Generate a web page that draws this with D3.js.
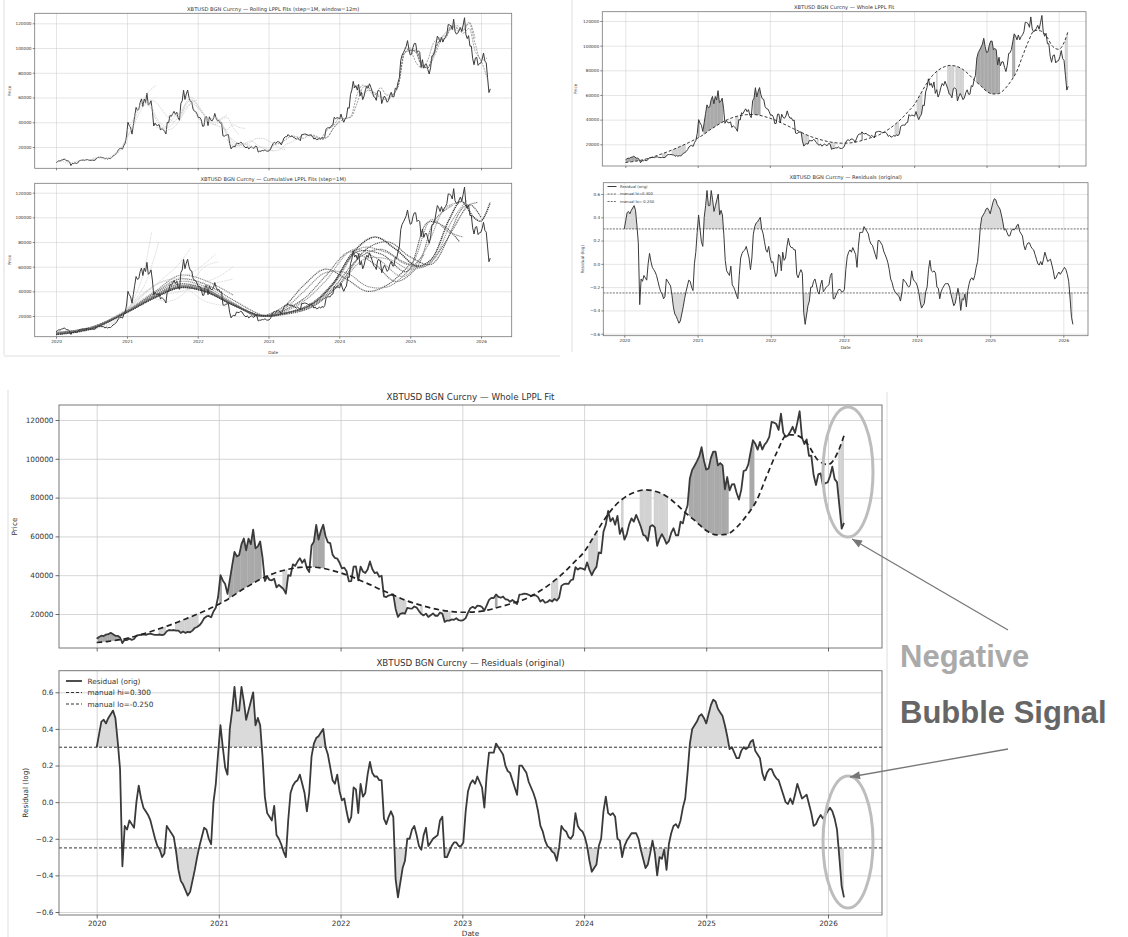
<!DOCTYPE html>
<html>
<head>
<meta charset="utf-8">
<script src="https://cdn.jsdelivr.net/npm/d3@7"></script>
<style>
body { margin: 0; background: #fff; }
text { font-family: "DejaVu Sans", sans-serif; fill: #333; }
</style>
</head>
<body>
<script>
const W = 1128, H = 937;
const svg = d3.select("body").append("svg").attr("width", W).attr("height", H);
const defs = svg.append("defs");

// ---- data (weekly closes from 2020-01-01) ----
const t0 = new Date(2020, 0, 1);
const price = [
  7200, 8100, 8800, 8650, 9400, 9600, 10300, 9600, 8800, 8750,
  7900, 5000, 6700, 6600, 7300, 6650, 7100, 8800, 9150, 9300,
  9500, 9200, 9650, 9900, 9450, 9250, 9230, 9430, 9150, 9530,
  11100, 11750, 11580, 11750, 11450, 11400, 10250, 10950, 10250, 10780,
  10600, 11430, 12800, 13280, 14150, 15700, 17800, 18750, 19000, 18300,
  21300, 23200, 28900,
  40000, 37300, 35500, 30400, 37600, 44900, 52000, 49700, 50400, 56000,
  58900, 52800, 58800, 56000, 63500, 53800, 54900, 57400, 49200, 37000,
  39300, 37600, 37400, 38200, 33700, 35000, 33900, 32800, 30500, 40000,
  39700, 45600, 44800, 47000, 48800, 46400, 48100, 43600, 41600, 55300,
  57300, 65900, 58400, 62900, 66000, 60100, 56900, 56500, 50600, 48900,
  48600, 46400,
  43500, 43900, 42000, 36800, 36900, 44400, 44500, 37300, 44400, 41900,
  41100, 42900, 47100, 43200, 41100, 41500, 39200, 39700, 29100, 28700,
  29500, 29800, 30100, 22600, 18500, 20100, 20500, 20200, 23200, 22900,
  22800, 23900, 23300, 21500, 20000, 19300, 20200, 18500, 19400, 20300,
  19100, 19100, 20800, 20200, 15900, 16600, 16600, 17200, 17000, 17800,
  16800, 16600,
  16900, 17900, 20700, 23000, 23700, 22900, 24300, 24200, 23600, 21700,
  24400, 27300, 28300, 28200, 30100, 28800, 28400, 29000, 27600, 27400,
  26300, 27200, 26300, 25100, 30000, 30100, 30500, 30400, 29900, 29300,
  29700, 29600, 28700, 26400, 27300, 25800, 26200, 27200, 26400, 27800,
  26900, 28400, 34500, 35400, 35600, 35500, 37400, 37800, 44100, 42900,
  43700, 43400,
  42800, 46600, 42700, 40000, 42600, 44300, 51800, 51300, 62400, 66100,
  73100, 67800, 69500, 66000, 70600, 61300, 64300, 58300, 61200, 66200,
  69300, 67600, 71100, 68200, 65000, 60800, 60200, 57700, 65100, 65800,
  64600, 55100, 58700, 61200, 59000, 56200, 57600, 61800, 64200, 60600,
  60600, 67600, 66700, 72300, 75900, 90000, 94300, 96400, 98700, 101200,
  106000, 99200,
  94400, 95000, 100500, 103700, 103700, 96600, 97800, 96600, 84300, 90600,
  83700, 86800, 86900, 82500, 79000, 84000, 93700, 94200, 97000, 103500,
  109600, 107800, 104700, 108700, 104800, 107300, 108800, 111300, 119000, 118700,
  117900, 114900, 123300, 113500, 111300, 112000, 114000, 116500, 113300, 118600,
  124500, 111000, 107600, 110000, 101500, 101600, 91500, 86500, 92000, 92500,
  86000, 87500, 87800,
  91000, 96000, 89500, 88000, 76000, 64000, 67000
];
const resid = [
  0.30, 0.37, 0.44, 0.45, 0.43, 0.46, 0.48, 0.50, 0.46, 0.33,
  0.18, -0.35, -0.13, -0.15, -0.10, -0.12, -0.14, 0.00, 0.09, 0.02,
  -0.03, -0.05, -0.07, -0.10, -0.15, -0.20, -0.24, -0.26, -0.30, -0.28,
  -0.13, -0.15, -0.17, -0.19, -0.27, -0.37, -0.43, -0.45, -0.48, -0.51,
  -0.49, -0.43, -0.37, -0.30, -0.24, -0.19, -0.14, -0.15, -0.20, -0.23,
  0.00, 0.10, 0.27,
  0.42, 0.30, 0.19, 0.15, 0.40, 0.50, 0.63,
  0.50, 0.50, 0.63, 0.55, 0.45, 0.50, 0.55, 0.60, 0.42, 0.46,
  0.42, 0.25, 0.03, -0.06, -0.08, -0.10, -0.02, -0.18, -0.20, -0.23,
  -0.27, -0.30, -0.10, 0.05, 0.09, 0.11, 0.12, 0.15, 0.10, 0.05,
  -0.05, 0.05, 0.25, 0.32, 0.35, 0.36, 0.38, 0.40, 0.30, 0.26,
  0.19, 0.12, 0.10, 0.15, 0.06, 0.01, 0.02, -0.05, -0.11, -0.08,
  0.08, 0.07, -0.06, 0.10, 0.03, 0.05, 0.15, 0.22, 0.16, 0.14,
  0.14, 0.12, 0.12, -0.09, -0.12, -0.08, -0.05, -0.08, -0.42, -0.52,
  -0.44, -0.36, -0.32, -0.20, -0.20, -0.15, -0.13, -0.18, -0.24, -0.26,
  -0.18, -0.14, -0.24, -0.22, -0.20, -0.19, -0.18, -0.10, -0.08, -0.30,
  -0.30, -0.27, -0.24, -0.22, -0.22, -0.24, -0.24, -0.22, -0.05, 0.06,
  0.10, 0.12, 0.10, 0.14, 0.11, 0.08, -0.03, 0.15, 0.27, 0.27,
  0.27, 0.32, 0.30, 0.28, 0.26, 0.20, 0.17, 0.16, 0.12, 0.08,
  0.04, 0.20, 0.20, 0.18, 0.16, 0.11, 0.08, 0.05, 0.01, -0.05,
  -0.13, -0.16, -0.21, -0.24, -0.25, -0.27, -0.28, -0.32, -0.25, -0.13,
  -0.15, -0.16, -0.19, -0.20, -0.18, -0.06, -0.13, -0.15, -0.16, -0.19,
  -0.24, -0.32, -0.38, -0.36, -0.34, -0.24, -0.20, -0.05, 0.03, -0.06,
  -0.07, -0.06, -0.08, -0.20, -0.21, -0.30, -0.24, -0.21, -0.19, -0.17,
  -0.17, -0.17, -0.20, -0.26, -0.31, -0.36, -0.34, -0.28, -0.21, -0.28,
  -0.40, -0.30, -0.31, -0.26, -0.37, -0.23, -0.17, -0.13, -0.12, -0.14,
  -0.10, -0.03, 0.02, 0.16, 0.32, 0.40, 0.42, 0.44, 0.47, 0.48,
  0.46, 0.43, 0.48, 0.53, 0.56, 0.55, 0.51, 0.49, 0.47, 0.42,
  0.36, 0.29, 0.30, 0.27, 0.24, 0.24, 0.28, 0.30, 0.29, 0.30,
  0.33, 0.34, 0.28, 0.26, 0.24, 0.16, 0.12, 0.16, 0.18, 0.18,
  0.15, 0.13, 0.12, 0.08, 0.04, 0.00, -0.01, 0.02, -0.01, 0.04,
  0.10, 0.06, 0.02, 0.03, 0.04, -0.01, -0.06, -0.13, -0.12, -0.09,
  -0.07, -0.09, -0.07, -0.05, -0.03, -0.05, -0.09, -0.15, -0.30, -0.46,
  -0.52
];
// whole LPPL fit, first of each month Jan 2020 .. Feb 2026, then the last day
const fitMonthly = [
  5300, 5800, 6500, 7500, 8800, 10400, 12100, 13900, 15900, 18000, 20200, 22500,
  25000, 28000, 31300, 34500, 37500, 40000, 41900, 43200, 44000, 44200, 43800, 42700,
  41200, 39400, 37300, 35000, 32600, 30300, 28000, 26000, 24400, 23000, 21900, 21200,
  20900, 21000, 21500, 22600, 24000, 25600, 27200, 29800, 33000, 36800, 41300, 46500,
  52000, 60500, 68500, 75500, 80000, 82800, 84000, 83300, 81000, 77000, 72000, 67700,
  63000, 60800, 61000, 64500, 70500, 78500, 91000, 103500, 112500, 112000, 107500, 99500,
  97000, 104000
];
const fitLast = 112000;

// rolling 12m fits, monthly values in thousands
const rollStart = ["2020-01", "2020-06", "2020-09", "2021-01", "2021-03", "2021-06", "2021-08",
  "2021-09", "2021-11", "2022-02", "2022-04", "2022-06", "2023-01", "2023-06", "2023-10",
  "2024-03", "2024-06", "2024-10", "2024-12", "2025-01", "2025-02"];
const rollK = [
  [7.5, 8.5, 7.0, 7.8, 9.0, 9.5, 9.8, 11.0, 11.2, 11.0, 13.5, 17.5, 24],
  [9.5, 10.0, 11.5, 11.0, 11.0, 14.0, 19.0, 27.0, 38.0, 50.0, 60.0, 66.0, 70.0],
  [10.5, 11.5, 15.0, 19.0, 28.0, 36.0, 46.0, 54.0, 58.0, 56.0, 50.0, 44.0, 40.0],
  [33, 42, 52, 57, 52, 42, 36, 34, 36, 42, 50, 56, 58],
  [50, 55, 54, 44, 38, 36, 40, 46, 52, 55, 52, 46, 40],
  [36, 35, 38, 44, 48, 55, 58, 54, 47, 42, 40, 43, 46],
  [44, 47, 46, 56, 60, 54, 46, 40, 38, 42, 44, 36, 30],
  [46, 44, 54, 58, 52, 46, 41, 38, 36, 34, 38, 36, 35],
  [60, 55, 44, 40, 42, 44, 40, 30, 22, 21, 22, 20, 19],
  [40, 41, 44, 40, 32, 24, 21, 23, 25, 22, 19, 17, 17],
  [43, 39, 30, 26, 22, 22, 24, 27, 27, 25, 22, 19, 18],
  [26, 21, 22, 23, 21, 19, 20, 18, 17, 18, 22, 24, 27],
  [17, 22, 23, 26, 29, 28, 27, 30, 29, 27, 28, 35, 41],
  [26, 30, 29, 28, 26, 28, 35, 40, 43, 44, 55, 68, 70],
  [27, 34, 37, 43, 43, 45, 62, 70, 66, 62, 68, 62, 62],
  [65, 70, 63, 66, 64, 61, 59, 62, 70, 96, 98, 97, 88],
  [68, 63, 60, 58, 62, 70, 96, 98, 98, 88, 84, 92, 104],
  [62, 70, 95, 100, 98, 86, 84, 96, 106, 112, 116, 114, 118],
  [100, 98, 88, 84, 90, 104, 108, 110, 118, 116, 115, 121, 108],
  [99, 96, 86, 84, 94, 106, 108, 116, 118, 114, 120, 104, 90, 92],
  [97, 86, 84, 96, 106, 108, 117, 116, 112, 116, 98, 90, 76]
];

// cumulative fits: [decimal year, value in thousands]
const cumLight = [
  [[2020, 7], [2020.5, 9], [2020.8, 14], [2021.0, 24], [2021.2, 48], [2021.35, 88]],
  [[2020, 7], [2020.5, 9.5], [2020.8, 15], [2021.0, 25], [2021.25, 45], [2021.45, 80]],
  [[2020, 7.5], [2020.5, 10], [2020.9, 20], [2021.2, 36], [2021.5, 50], [2021.7, 60], [2021.9, 75]],
  [[2020, 7], [2020.5, 10], [2020.9, 21], [2021.2, 37], [2021.5, 48], [2021.8, 52], [2022.0, 58], [2022.25, 70]],
  [[2020, 7], [2020.5, 10.5], [2021.0, 25], [2021.4, 40], [2021.7, 44], [2022.0, 46], [2022.3, 52], [2022.5, 60]],
  [[2020, 6.5], [2020.5, 10.5], [2021.0, 25], [2021.3, 36], [2021.6, 38], [2021.9, 42], [2022.2, 46], [2022.5, 50]],
  [[2020, 6], [2020.5, 10], [2021.0, 24], [2021.3, 34], [2021.6, 32], [2021.8, 38], [2022.1, 60], [2022.3, 64]],
  [[2020, 6], [2020.5, 11], [2021.0, 25], [2021.3, 40], [2021.5, 48], [2021.8, 50], [2022.0, 45], [2022.2, 40]],
  [[2020, 7], [2020.5, 11], [2021.0, 26], [2021.4, 45], [2021.6, 48], [2021.9, 40], [2022.1, 32], [2022.4, 28]]
];
const cumDark = [
  [[2020, 6], [2020.5, 11], [2021, 24], [2021.4, 40], [2021.75, 53], [2022.1, 49], [2022.5, 37]],
  [[2020, 6.5], [2020.5, 11], [2021, 24], [2021.4, 39], [2021.75, 50], [2022.1, 46], [2022.5, 33], [2022.9, 21], [2023.1, 20]],
  [[2020, 6], [2020.5, 10.5], [2021, 24], [2021.4, 38], [2021.75, 48], [2022.1, 44], [2022.5, 31], [2022.9, 20], [2023.2, 24], [2023.5, 34]],
  [[2020, 6], [2020.5, 10.5], [2021, 24], [2021.4, 37], [2021.75, 46], [2022.1, 42], [2022.5, 30], [2022.85, 20], [2023.2, 27], [2023.5, 45], [2023.8, 58], [2024.1, 50], [2024.4, 40], [2024.7, 46], [2025, 62]],
  [[2020, 6], [2020.5, 10.5], [2021, 24], [2021.4, 37], [2021.75, 45], [2022.1, 42], [2022.5, 30], [2022.85, 20], [2023.2, 25], [2023.5, 40], [2023.8, 55], [2024.1, 55], [2024.4, 44], [2024.7, 44], [2025, 58], [2025.2, 70]],
  [[2020, 5.5], [2020.5, 10], [2021, 23.5], [2021.4, 36], [2021.75, 44], [2022.1, 41], [2022.5, 30], [2022.9, 20], [2023.2, 24], [2023.5, 34], [2023.8, 52], [2024.15, 72], [2024.5, 62], [2024.8, 48], [2025.1, 60], [2025.35, 98], [2025.6, 110]],
  [[2020, 5.5], [2020.5, 10], [2021, 23.5], [2021.4, 36], [2021.75, 44], [2022.1, 41], [2022.5, 30], [2022.9, 20], [2023.2, 23], [2023.5, 32], [2023.8, 48], [2024.2, 74], [2024.55, 66], [2024.9, 52], [2025.2, 72], [2025.5, 108], [2025.7, 112]],
  [[2020, 5.5], [2020.5, 10], [2021, 23], [2021.4, 36], [2021.75, 44], [2022.1, 41], [2022.5, 29], [2022.9, 20], [2023.2, 22], [2023.6, 30], [2023.9, 46], [2024.25, 72], [2024.6, 70], [2024.95, 56], [2025.25, 96], [2025.5, 92], [2025.7, 80]],
  [[2020, 5.5], [2020.5, 10], [2021, 23], [2021.4, 36], [2021.75, 44], [2022.1, 41], [2022.5, 29], [2022.9, 20], [2023.2, 22], [2023.6, 29], [2023.95, 48], [2024.3, 75], [2024.65, 72], [2025, 62], [2025.3, 98], [2025.55, 88], [2025.75, 84]],
  [[2020, 5], [2020.5, 10], [2021, 23], [2021.4, 36], [2021.75, 43], [2022.1, 40], [2022.5, 29], [2022.9, 20], [2023.2, 22], [2023.6, 28], [2023.9, 42], [2024.3, 68], [2024.6, 74], [2024.9, 64], [2025.2, 60], [2025.5, 80], [2025.75, 108], [2025.95, 112]],
  [[2020, 5], [2020.5, 10], [2021, 23], [2021.4, 35], [2021.75, 43], [2022.1, 40], [2022.5, 29], [2022.9, 20], [2023.2, 22], [2023.6, 27], [2024, 45], [2024.35, 66], [2024.7, 66], [2025, 58], [2025.3, 64], [2025.6, 98], [2025.8, 114]],
  [[2020, 5], [2020.5, 10], [2021, 23], [2021.4, 35], [2021.75, 43], [2022.1, 40], [2022.5, 29], [2022.9, 20], [2023.2, 21], [2023.6, 27], [2024, 46], [2024.4, 75], [2024.7, 80], [2025, 68], [2025.3, 62], [2025.6, 90], [2025.85, 110], [2026, 100]],
  [[2020, 5], [2020.5, 9.5], [2021, 23], [2021.4, 35], [2021.75, 43], [2022.1, 40], [2022.5, 29], [2022.9, 20.5], [2023.3, 23], [2023.6, 29], [2023.9, 45], [2024.2, 72], [2024.5, 84], [2024.8, 74], [2025.1, 60.5], [2025.3, 66], [2025.55, 98], [2025.72, 113], [2025.9, 100], [2026, 97], [2026.13, 112]]
];

const years = [2020, 2021, 2022, 2023, 2024, 2025, 2026];
const priceTicks = [20000, 40000, 60000, 80000, 100000, 120000];
const residTicks = [-0.6, -0.4, -0.2, 0, 0.2, 0.4, 0.6];
const hi = 0.3, lo = -0.25;
const legendLabels = ["Residual (orig)", "manual hi=0.300", "manual lo=-0.250"];

// ---- derived dates ----
const weeks = price.map((d, i) => d3.timeDay.offset(t0, 7 * i));
const fitDates = fitMonthly.map((d, i) => d3.timeMonth.offset(t0, i)).concat([weeks[weeks.length - 1]]);
const fitVals = fitMonthly.concat([fitLast]);
const yearDates = years.map(y => new Date(y, 0, 1));
const decDate = v => new Date(t0.getTime() + (v - 2020) * 365.25 * 864e5);
const parseMonth = d3.timeParse("%Y-%m");

let uid = 0;
function clipRect(x, y, w, h) {
  const id = "cl" + (uid++);
  defs.append("clipPath").attr("id", id).append("rect")
    .attr("x", x).attr("y", y).attr("width", w).attr("height", h);
  return `url(#${id})`;
}

const priceFmt = d => String(d);
const residFmt = d => d === 0 ? "0.0" : (d < 0 ? "\u2212" : "") + Math.abs(d).toFixed(1);

function panel(o) {
  const x = d3.scaleTime().domain([yearDates[0], yearDates[6]]).range([o.x20, o.x26]);
  const y = d3.scaleLinear().domain([o.yA[0], o.yB[0]]).range([o.yA[1], o.yB[1]]);
  const w = o.right - o.left, h = o.bottom - o.top;
  const g = svg.append("g");
  const gridStyle = a => {
    a.select(".domain").remove();
    a.selectAll("line").attr("stroke", "#cbcbcb").attr("stroke-width", o.gw);
  };
  g.append("g").attr("transform", `translate(0,${o.bottom})`)
    .call(d3.axisBottom(x).tickValues(yearDates).tickSize(-h).tickFormat(""))
    .call(gridStyle);
  g.append("g").attr("transform", `translate(${o.left},0)`)
    .call(d3.axisLeft(y).tickValues(o.yTicks).tickSize(-w).tickFormat(""))
    .call(gridStyle);
  const plot = g.append("g").attr("clip-path", clipRect(o.left, o.top, w, h));
  const top = g.append("g");
  top.append("rect").attr("x", o.left).attr("y", o.top).attr("width", w).attr("height", h)
    .attr("fill", "none").attr("stroke", "#777").attr("stroke-width", o.fw);
  const xa = top.append("g").attr("transform", `translate(0,${o.bottom})`)
    .call(d3.axisBottom(x).tickValues(yearDates).tickSize(o.tk).tickPadding(o.pad)
      .tickFormat(o.xLabels ? d3.timeFormat("%Y") : ""));
  const ya = top.append("g").attr("transform", `translate(${o.left},0)`)
    .call(d3.axisLeft(y).tickValues(o.yTicks).tickSize(o.tk).tickPadding(o.pad).tickFormat(o.yFmt));
  [xa, ya].forEach(a => {
    a.select(".domain").remove();
    a.selectAll("line").attr("stroke", "#444").attr("stroke-width", o.fw * 0.8);
    a.selectAll("text").attr("font-size", o.fs).attr("fill", "#333");
  });
  top.append("text").attr("x", (o.left + o.right) / 2).attr("y", o.titleY)
    .attr("text-anchor", "middle").attr("font-size", o.tfs).text(o.title);
  top.append("text")
    .attr("transform", `translate(${o.ylabX},${(o.top + o.bottom) / 2}) rotate(-90)`)
    .attr("text-anchor", "middle").attr("font-size", o.fs).text(o.ylab);
  if (o.xlabY) {
    top.append("text").attr("x", (o.left + o.right) / 2).attr("y", o.xlabY)
      .attr("text-anchor", "middle").attr("font-size", o.fs).text("Date");
  }
  return { plot, top, x, y };
}

function drawPrice(P, o) {
  P.plot.append("path")
    .attr("d", d3.line().x((d, i) => P.x(weeks[i])).y(d => P.y(d))(price))
    .attr("fill", "none").attr("stroke", "#3a3a3a").attr("stroke-width", o.lw)
    .attr("stroke-linejoin", "round");
}

function drawFit(P, o) {
  P.plot.append("path")
    .attr("d", d3.line().x((d, i) => P.x(fitDates[i])).y(d => P.y(d)).curve(d3.curveMonotoneX)(fitVals))
    .attr("fill", "none").attr("stroke", "#222").attr("stroke-width", o.dw)
    .attr("stroke-dasharray", o.dash);
}

function shadePrice(P, o) {
  const sets = [
    { cond: r => r > hi, fitY0: o.top - 20, priceY0: o.bottom + 20, fill: "#a9a9a9" },
    { cond: r => r < lo, fitY0: o.bottom + 20, priceY0: o.top - 20, fill: "#d2d2d2" }
  ];
  sets.forEach(s => {
    const tid = "cl" + (uid++);
    defs.append("clipPath").attr("id", tid).selectAll("rect")
      .data(weeks.filter((d, i) => s.cond(resid[i]))).join("rect")
      .attr("x", d => P.x(d3.timeHour.offset(d, -84)))
      .attr("width", d => P.x(d3.timeHour.offset(d, 84)) - P.x(d3.timeHour.offset(d, -84)) + 0.3)
      .attr("y", o.top).attr("height", o.bottom - o.top);
    const fid = "cl" + (uid++);
    defs.append("clipPath").attr("id", fid).append("path")
      .attr("d", d3.area().x((d, i) => P.x(fitDates[i])).y0(s.fitY0).y1(d => P.y(d))
        .curve(d3.curveMonotoneX)(fitVals));
    P.plot.append("g").attr("clip-path", `url(#${tid})`).append("path")
      .attr("clip-path", `url(#${fid})`)
      .attr("d", d3.area().x((d, i) => P.x(weeks[i])).y0(s.priceY0).y1(d => P.y(d))(price))
      .attr("fill", s.fill);
  });
}

function residPanel(P, o) {
  const yh = P.y(hi), yl = P.y(lo);
  [[hi, o.top, yh - o.top], [lo, yl, o.bottom - yl]].forEach(([t, cy, ch]) => {
    P.plot.append("path")
      .attr("clip-path", clipRect(o.left, cy, o.right - o.left, ch))
      .attr("d", d3.area().x((d, i) => P.x(weeks[i])).y0(P.y(t)).y1(d => P.y(d))(resid))
      .attr("fill", "#dadada");
  });
  [hi, lo].forEach(t => {
    P.plot.append("line").attr("x1", o.left).attr("x2", o.right)
      .attr("y1", P.y(t)).attr("y2", P.y(t))
      .attr("stroke", "#333").attr("stroke-width", o.tw).attr("stroke-dasharray", o.tdash);
  });
  P.plot.append("path")
    .attr("d", d3.line().x((d, i) => P.x(weeks[i])).y(d => P.y(d))(resid))
    .attr("fill", "none").attr("stroke", "#3a3a3a").attr("stroke-width", o.lw)
    .attr("stroke-linejoin", "round");
  // legend
  const L = o.legend;
  legendLabels.forEach((lab, k) => {
    const ly = L.ys[k];
    P.top.append("line").attr("x1", L.x1).attr("x2", L.x2).attr("y1", ly).attr("y2", ly)
      .attr("stroke", k === 0 ? "#3a3a3a" : "#333")
      .attr("stroke-width", k === 0 ? o.lw : o.tw)
      .attr("stroke-dasharray", k === 0 ? null : o.tdash);
    P.top.append("text").attr("x", L.tx).attr("y", ly).attr("dy", "0.35em")
      .attr("font-size", L.fs).text(lab);
  });
}

// ---- screenshot edges ----
const edges = [[4, 0, 4, 355], [4, 356, 560, 356], [572, 0, 572, 352], [8, 390, 8, 937], [887, 392, 887, 937]];
svg.append("g").selectAll("line").data(edges).join("line")
  .attr("x1", d => d[0]).attr("y1", d => d[1]).attr("x2", d => d[2]).attr("y2", d => d[3])
  .attr("stroke", "#dedede").attr("stroke-width", 1);

// ---- top-left: rolling fits ----
const small = { gw: 0.5, fw: 0.8, tk: 2, pad: 1.2, fs: 4.2, tfs: 5.2 };
const oRoll = Object.assign({}, small, {
  left: 34.7, right: 511.7, top: 13.3, bottom: 168.3, x20: 56, x26: 481,
  yA: [20000, 147], yB: [120000, 23.3], yTicks: priceTicks, yFmt: priceFmt,
  title: "XBTUSD BGN Curcny \u2014 Rolling LPPL Fits (step=1M, window=12m)", titleY: 11,
  ylab: "Price", ylabX: 10.5, xLabels: false, lw: 1
});
const PR = panel(oRoll);
drawPrice(PR, oRoll);
rollK.forEach((vals, k) => {
  const s = parseMonth(rollStart[k]);
  PR.plot.append("path")
    .attr("d", d3.line().x((d, i) => PR.x(d3.timeMonth.offset(s, i))).y(d => PR.y(d * 1000))
      .curve(d3.curveMonotoneX)(vals))
    .attr("fill", "none").attr("stroke", k < 12 ? "#bdbdbd" : "#666")
    .attr("stroke-width", 0.6).attr("stroke-dasharray", k < 12 ? "1.5,0.8" : "2,1");
});

// ---- top-left lower: cumulative fits ----
const oCum = Object.assign({}, small, {
  left: 34.7, right: 511.7, top: 183.3, bottom: 336.7, x20: 56, x26: 481,
  yA: [20000, 316], yB: [120000, 192.7], yTicks: priceTicks, yFmt: priceFmt,
  title: "XBTUSD BGN Curcny \u2014 Cumulative LPPL Fits (step=1M)", titleY: 181,
  ylab: "Price", ylabX: 10.5, xLabels: true, xlabY: 353.5, lw: 1
});
const PC = panel(oCum);
const cumLine = d3.line().x(d => PC.x(decDate(d[0]))).y(d => PC.y(d[1] * 1000)).curve(d3.curveCatmullRom.alpha(0.5));
cumLight.forEach(c => {
  PC.plot.append("path").attr("d", cumLine(c)).attr("fill", "none")
    .attr("stroke", "#c6c6c6").attr("stroke-width", 0.7).attr("stroke-dasharray", "1,0.8");
});
const darkTones = ["#8a8a8a", "#6f6f6f", "#999", "#555"];
cumDark.forEach((c, k) => {
  PC.plot.append("path").attr("d", cumLine(c)).attr("fill", "none")
    .attr("stroke", k === cumDark.length - 1 ? "#3c3c3c" : darkTones[k % darkTones.length])
    .attr("stroke-width", k === cumDark.length - 1 ? 1.5 : 1.1).attr("stroke-dasharray", "1.2,0.7");
});
drawPrice(PC, oCum);

// ---- top-right: whole fit + residuals ----
const oWhole = Object.assign({}, small, {
  left: 602.3, right: 1086, top: 11.7, bottom: 166, x20: 625.3, x26: 1058.7,
  yA: [20000, 144.3], yB: [120000, 21], yTicks: priceTicks, yFmt: priceFmt,
  title: "XBTUSD BGN Curcny \u2014 Whole LPPL Fit", titleY: 8.5,
  ylab: "Price", ylabX: 577, xLabels: false, lw: 1, dw: 0.9, dash: "3,2"
});
const PW = panel(oWhole);
shadePrice(PW, oWhole);
drawPrice(PW, oWhole);
drawFit(PW, oWhole);

const oRes = Object.assign({}, small, {
  left: 603.3, right: 1088, top: 182.7, bottom: 335.7, x20: 624.3, x26: 1063.3,
  yA: [-0.6, 333.7], yB: [0.6, 194], yTicks: residTicks, yFmt: residFmt,
  title: "XBTUSD BGN Curcny \u2014 Residuals (original)", titleY: 179,
  ylab: "Residual (log)", ylabX: 584, xLabels: true, xlabY: 348.5,
  lw: 1, tw: 0.7, tdash: "2,1.2",
  legend: { x1: 607.5, x2: 616.5, tx: 620, ys: [186.5, 194, 201.5], fs: 3.8 }
});
const PRs = panel(oRes);
residPanel(PRs, oRes);

// ---- bottom: enlarged whole fit + residuals ----
const big = { gw: 0.8, fw: 1, tk: 3.5, pad: 2, fs: 7.3, tfs: 8.7 };
const oBig = Object.assign({}, big, {
  left: 59, right: 882, top: 405, bottom: 648, x20: 96.7, x26: 828,
  yA: [20000, 614], yB: [120000, 420], yTicks: priceTicks, yFmt: priceFmt,
  title: "XBTUSD BGN Curcny \u2014 Whole LPPL Fit", titleY: 400,
  ylab: "Price", ylabX: 17, xLabels: false, lw: 1.8, dw: 1.7, dash: "5.5,3.5"
});
const PB = panel(oBig);
shadePrice(PB, oBig);
drawPrice(PB, oBig);
drawFit(PB, oBig);

const oBigRes = Object.assign({}, big, {
  left: 59, right: 882, top: 670.7, bottom: 915, x20: 96.7, x26: 828,
  yA: [-0.6, 912], yB: [0.6, 692.3], yTicks: residTicks, yFmt: residFmt,
  title: "XBTUSD BGN Curcny \u2014 Residuals (original)", titleY: 666,
  ylab: "Residual (log)", ylabX: 28, xLabels: true, xlabY: 936,
  lw: 1.8, tw: 1, tdash: "3,2",
  legend: { x1: 66, x2: 82, tx: 87.5, ys: [681, 692.5, 704], fs: 7.3 }
});
const PBR = panel(oBigRes);
residPanel(PBR, oBigRes);

// ---- annotation ----
defs.append("marker").attr("id", "arrowHead").attr("viewBox", "0 0 10 10")
  .attr("refX", 10).attr("refY", 5).attr("markerWidth", 12).attr("markerHeight", 10)
  .attr("markerUnits", "userSpaceOnUse").attr("orient", "auto")
  .append("path").attr("d", "M0,1L10,5L0,9Z").attr("fill", "#777");

const ann = svg.append("g");
[[848, 472, 25, 65], [848, 842, 25, 66]].forEach(e => {
  ann.append("ellipse").attr("cx", e[0]).attr("cy", e[1]).attr("rx", e[2]).attr("ry", e[3])
    .attr("fill", "none").attr("stroke", "#bdbdbd").attr("stroke-width", 3);
});
[[1008, 630, 852, 539], [1008, 749, 850, 777]].forEach(a => {
  ann.append("line").attr("x1", a[0]).attr("y1", a[1]).attr("x2", a[2]).attr("y2", a[3])
    .attr("stroke", "#777").attr("stroke-width", 1.3).attr("marker-end", "url(#arrowHead)");
});
ann.append("text").attr("x", 900).attr("y", 667)
  .style("font-family", "'Liberation Sans', Arial, sans-serif").style("font-weight", "bold")
  .style("font-size", "31px").style("fill", "#aaaaaa").text("Negative");
ann.append("text").attr("x", 900).attr("y", 723)
  .style("font-family", "'Liberation Sans', Arial, sans-serif").style("font-weight", "bold")
  .style("font-size", "31px").style("fill", "#666666").text("Bubble Signal");
</script>
</body>
</html>
